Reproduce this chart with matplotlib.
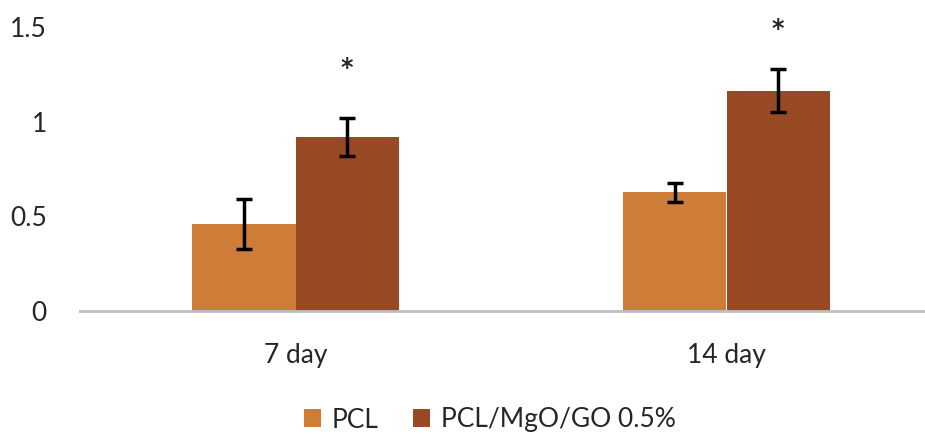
import numpy as np
import matplotlib.pyplot as plt

plt.rcParams["font.family"] = ["Lato", "DejaVu Sans"]

categories = ["7 day", "14 day"]
series_names = ["PCL", "PCL/MgO/GO 0.5%"]
pcl = [0.46, 0.627]
pcl_err = [0.13, 0.05]
mgo_go = [0.92, 1.164]
mgo_go_err = [0.10, 0.115]
significant = ["*", "*"]
mark_height = [1.283, 1.492]
yticks = [0, 0.5, 1, 1.5]

light = "#CE7D39"
dark = "#984A24"
axis_gray = "#BFBFBF"
text_color = "#262626"

fig = plt.figure(figsize=(9.25, 4.38), dpi=100)
ax = fig.add_axes([80 / 925, 127 / 438, 845 / 925, 284 / 438])

x = np.arange(len(categories))
w = 0.239
err_kw = dict(ecolor="black", elinewidth=2.5, capsize=5.5, capthick=2.5)
ax.bar(x - w / 2, pcl, w, yerr=pcl_err, color=light, label=series_names[0],
       error_kw=err_kw)
ax.bar(x + w / 2, mgo_go, w, yerr=mgo_go_err, color=dark, label=series_names[1],
       error_kw=err_kw)

# significance marks above the composite bars
for xi, s, h in zip(x, significant, mark_height):
    ax.text(xi + w / 2, h, s, ha="center", va="center", fontsize=17,
            fontweight="bold", family="DejaVu Sans", color=text_color,
            clip_on=False)

ax.set_xlim(-0.5, -0.5 + 845 / 431)
ax.set_ylim(0, 1.5)
ax.set_yticks(yticks)
ax.set_yticklabels(["0", "0.5", "1", "1.5"])
ax.set_xticks(x)
ax.set_xticklabels(categories)
ax.tick_params(axis="y", length=0, pad=24, labelsize=19, labelcolor=text_color)
ax.tick_params(axis="x", length=0, pad=23, labelsize=19, labelcolor=text_color)

for side in ["top", "right", "left"]:
    ax.spines[side].set_visible(False)
ax.spines["bottom"].set_color(axis_gray)
ax.spines["bottom"].set_linewidth(2)

ax.legend(loc="center", bbox_to_anchor=(490 / 925, 18 / 438),
          bbox_transform=fig.transFigure, ncol=2, frameon=False,
          fontsize=19, handlelength=0.65, handleheight=0.65, handletextpad=0.4,
          columnspacing=1.3, labelcolor=text_color)

fig.savefig("out.png", dpi=100)
